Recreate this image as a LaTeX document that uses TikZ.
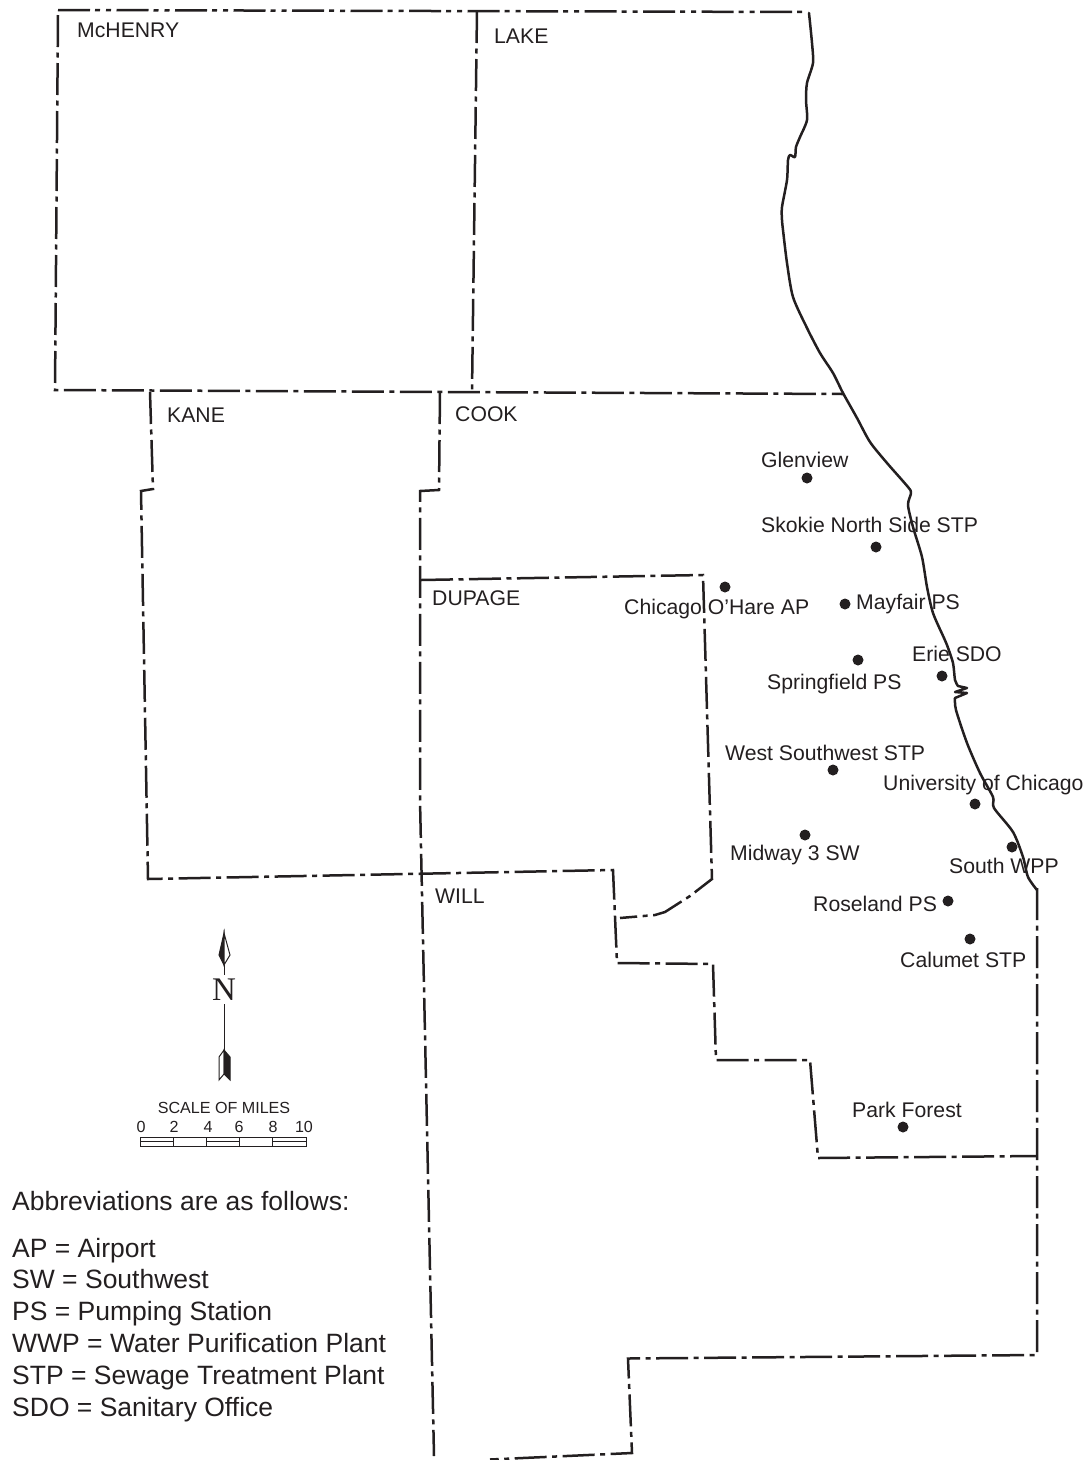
\documentclass[tikz,border=0pt]{standalone}
\usepackage{fontspec}
\setmainfont{Liberation Sans}
\newfontfamily\nfont{Liberation Serif}
\definecolor{ink}{HTML}{231F20}
\tikzset{
  county/.style={ink,line width=2.5pt,dash pattern=on 32pt off 5.5pt on 5pt off 5.5pt},
  stateline/.style={ink,line width=2.5pt,dash pattern=on 32pt off 5pt on 5pt off 6pt on 5pt off 5.5pt},
  shore/.style={ink,line width=2.5pt,line join=round,line cap=round},
  site/.style={circle,fill=ink,inner sep=0pt,minimum size=11pt},
  lbl/.style={anchor=base west,inner sep=0pt,text=ink,font=\fontsize{21.2}{24}\selectfont},
  abbr/.style={anchor=base west,inner sep=0pt,text=ink,font=\fontsize{26.5}{30}\selectfont},
  tiny/.style={anchor=base,inner sep=0pt,text=ink,font=\fontsize{16.1}{18}\selectfont},
  thin/.style={ink,line width=1pt}
}
\begin{document}
\begin{tikzpicture}[x=1pt,y=-1pt]
\useasboundingbox (0,0) rectangle (1089,1460);
% county lines
\draw[stateline] (58,10) -- (808,12);
\draw[county] (58,15) -- (55,390) -- (843,394);
\draw[county] (477,11) -- (472,392);
\draw[county] (150,392) -- (153,489) -- (141,491) -- (148,879) -- (613,870) -- (617,963) -- (713,964) -- (716,1060) -- (810,1060) -- (818,1158) -- (1037,1156);
\draw[county] (440,392) -- (439,490) -- (420,491) -- (420,800) -- (434,1456);
\draw[county] (421,580) -- (703,575) -- (712,879) -- (690,896) -- (665,912) -- (655,915) -- (620,918);
\draw[county] (1037,888) -- (1037,1355) -- (628,1358.5) -- (632,1453) -- (490,1459.5);
% shoreline
\draw[shore] plot[smooth,tension=0.45] coordinates {(809,13) (812,43) (813,63) (807,83) (806,100) (807,120) (800,137) (796,147) (795,157) (790,155) (788,160) (787,180) (782,207) (782,220) (783,230) (787,263) (793,297) (807,328) (820,353) (833,373) (843,393) (857,418) (870,442) (887,463) (908,487) (911,493) (908,505) (913,527) (922,557) (927,587) (933,613) (944,638) (947,645) (953,663) (955,680) (958,686)}
  -- (967,688) -- (955,692) -- (967,693) -- (955,698);
\draw[shore] plot[smooth,tension=0.45] coordinates {(955,698) (956,710) (967,743) (980,773) (993,797) (994,808) (1013,832) (1023,857) (1028,877) (1037,890)};
% county names
\node[lbl] (mchenry) at (77,37) {McHENRY};
\node[lbl] (lake) at (494,43) {LAKE};
\node[lbl] (kane) at (167,422) {KANE};
\node[lbl] (cook) at (455,421) {COOK};
\node[lbl] (dupage) at (432,605) {DUPAGE};
\node[lbl] (will) at (435,903) {WILL};
% sites
\node[site] (d1) at (807,478) {};
\node[site] (d2) at (876,547) {};
\node[site] (d3) at (725,587) {};
\node[site] (d4) at (845,604) {};
\node[site] (d5) at (858,660) {};
\node[site] (d6) at (942,676) {};
\node[site] (d7) at (833,770) {};
\node[site] (d8) at (975,804) {};
\node[site] (d9) at (1012,847) {};
\node[site] (d10) at (805,835) {};
\node[site] (d11) at (948,901) {};
\node[site] (d12) at (970,939) {};
\node[site] (d13) at (903,1127) {};
\node[lbl] (l1) at (761,467) {Glenview};
\node[lbl] (l2) at (761,532) {Skokie North Side STP};
\node[lbl] (l3) at (624,614) {Chicago O'Hare AP};
\node[lbl] (l4) at (856,609) {Mayfair PS};
\node[lbl] (l5) at (767,689) {Springfield PS};
\node[lbl] (l6) at (912,661) {Erie SDO};
\node[lbl] (l7) at (725,760) {West Southwest STP};
\node[lbl] (l8) at (883,790) {University of Chicago};
\node[lbl] (l9) at (949,873) {South WPP};
\node[lbl] (l10) at (730,860) {Midway 3 SW};
\node[lbl] (l11) at (813,911) {Roseland PS};
\node[lbl] (l12) at (900,967) {Calumet STP};
\node[lbl] (l13) at (852,1117) {Park Forest};
% north arrow
\node[anchor=center,inner sep=0pt,text=ink,font=\nfont\fontsize{33}{36}\selectfont] (north) at (224,990) {N};
\draw[thin,fill=ink] (224,933) -- (219,955) -- (224,965) -- cycle;
\draw[thin,fill=white] (224,933) -- (230,955) -- (224,965) -- cycle;
\draw[thin] (224,965) -- (224,975);
\draw[thin] (224,1004) -- (224,1050);
\draw[thin,fill=white] (224,1050) -- (219,1057) -- (219,1080) -- (224,1074) -- cycle;
\draw[thin,fill=ink] (224,1050) -- (230,1057) -- (230,1080) -- (224,1074) -- cycle;
% scale bar
\node[tiny] (scaletitle) at (224,1113) {SCALE OF MILES};
\node[tiny] (s0) at (141,1132) {0};
\node[tiny] (s2) at (174,1132) {2};
\node[tiny] (s4) at (208,1132) {4};
\node[tiny] (s6) at (239,1132) {6};
\node[tiny] (s8) at (273,1132) {8};
\node[tiny] (s10) at (304,1132) {10};
\draw[thin] (140,1137) rectangle (306,1146);
\foreach \xx in {173,206,239,272} \draw[thin] (\xx,1137) -- (\xx,1146);
\draw[thin] (140,1141) -- (173,1141) (206,1141) -- (239,1141) (272,1141) -- (306,1141);
% abbreviations
\node[abbr] (a0) at (12,1210) {Abbreviations are as follows:};
\node[abbr] (a1) at (12,1257) {AP = Airport};
\node[abbr] (a2) at (12,1288) {SW = Southwest};
\node[abbr] (a3) at (12,1320) {PS = Pumping Station};
\node[abbr] (a4) at (12,1352) {WWP = Water Purification Plant};
\node[abbr] (a5) at (12,1384) {STP = Sewage Treatment Plant};
\node[abbr] (a6) at (12,1416) {SDO = Sanitary Office};
\end{tikzpicture}
\end{document}
